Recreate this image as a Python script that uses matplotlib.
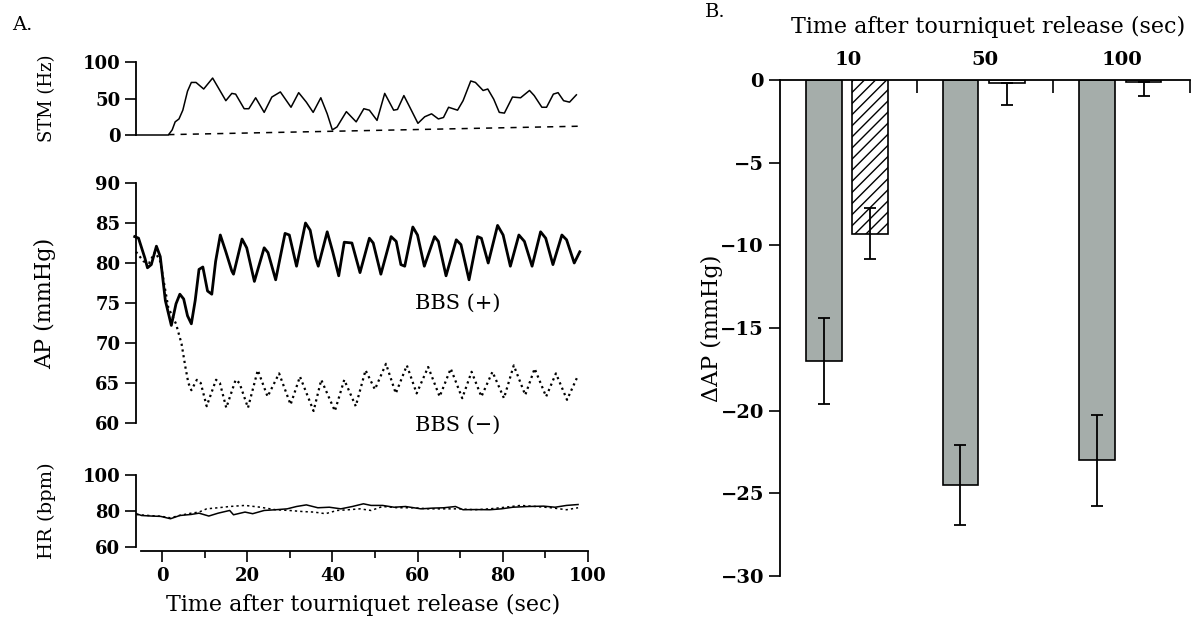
"""
Tourniquet release: STM, AP and HR traces (A) and mean AP change (B).
"""

import numpy as np
import matplotlib

matplotlib.use("Agg")
import matplotlib.pyplot as plt

plt.rcParams.update({"font.family": "DejaVu Serif", "font.size": 13})

# ---- panel A: STM (Hz) ----
stm_t = [-6.0, 1.5, 2.4, 3.1, 4.0, 4.9, 6.0, 6.9, 8.0, 9.8, 11.9, 13.2, 15.0, 16.4,
         17.3, 19.3, 20.4, 22.0, 24.0, 25.8, 27.8, 30.3, 32.1, 33.9, 35.5, 37.3,
         38.8, 40.0, 41.1, 43.3, 45.6, 47.4, 48.7, 50.5, 52.3, 54.4, 55.3, 56.8,
         58.2, 60.1, 61.7, 63.3, 64.9, 66.1, 67.3, 69.4, 70.7, 72.5, 73.6, 75.4,
         76.5, 77.9, 79.2, 80.4, 82.3, 84.2, 86.3, 87.4, 89.2, 90.3, 91.9, 93.0,
         94.3, 95.7, 97.3]
stm_hz = [0, 0, 7, 18, 22, 34, 60, 72, 72, 63, 78, 65, 47, 57,
          56, 36, 36, 51, 31, 52, 59, 38, 58, 45, 31, 51,
          29, 7, 11, 32, 18, 36, 34, 20, 57, 34, 35, 54,
          38, 16, 25, 29, 22, 24, 38, 34, 47, 74, 72, 61,
          63, 49, 31, 30, 52, 51, 61, 54, 38, 38, 56, 58,
          47, 45, 55]
stm_base_t = [1.5, 97.7]
stm_base = [0.5, 12]

# ---- panel A: AP (mmHg), BBS(+) solid ----
ap_pos_t = [-6.4, -5.5, -4.0, -3.4, -2.5, -1.3, -0.4, 0.8, 2.2, 3.3, 4.2, 5.1, 6.0,
            6.9, 7.8, 8.7, 9.6, 10.7, 11.7, 12.6, 13.7, 15.0, 16.4, 16.8, 18.8,
            19.9, 21.7, 24.0, 24.9, 26.7, 28.9, 29.9, 31.6, 33.7, 34.8, 36.1,
            36.7, 38.8, 40.1, 41.5, 42.8, 44.6, 46.5, 48.7, 49.6, 51.4, 53.8,
            55.0, 56.1, 57.0, 58.9, 60.0, 61.6, 64.0, 64.9, 66.7, 69.1, 70.2,
            72.1, 74.1, 75.0, 76.6, 78.8, 80.1, 81.8, 83.8, 85.1, 86.9, 88.9,
            90.1, 91.8, 93.9, 95.0, 96.8, 98.1]
ap_pos = [83.3, 83.1, 80.6, 79.4, 79.8, 82.1, 80.8, 75.3, 72.2, 74.9, 76.1, 75.5, 73.4,
          72.4, 75.3, 79.2, 79.5, 76.5, 76.1, 80.2, 83.5, 81.4, 79.0, 78.6, 83.0,
          81.9, 77.7, 81.9, 81.3, 77.9, 83.7, 83.5, 79.6, 85.0, 84.1, 80.6,
          79.6, 83.9, 81.4, 78.4, 82.6, 82.5, 78.8, 83.1, 82.5, 78.6, 83.3,
          82.7, 79.8, 79.6, 84.5, 83.5, 79.6, 83.3, 82.7, 78.4, 82.9, 82.3,
          77.9, 83.3, 83.1, 80.0, 84.7, 83.5, 79.6, 83.5, 82.7, 79.6, 83.9,
          83.1, 79.8, 83.5, 82.9, 80.0, 81.4]

# ---- panel A: AP (mmHg), BBS(-) dotted ----
ap_neg_t = [-6.1, -4.3, -3.0, -1.6, -0.4, 1.5, 3.3, 4.6, 5.5, 6.2, 6.9, 8.2, 9.1,
            10.5, 12.7, 13.6, 15.1, 17.3, 18.2, 20.2, 22.5, 24.8, 27.5, 30.2,
            32.4, 35.6, 37.4, 40.6, 42.8, 45.5, 47.8, 50.0, 52.6, 54.9, 57.5,
            59.8, 62.5, 65.2, 67.8, 70.5, 72.7, 75.0, 77.6, 80.3, 82.6, 85.3,
            87.5, 90.2, 92.5, 95.1, 97.4]
ap_neg = [81.4, 80.2, 80.0, 81.4, 80.2, 74.4, 72.4, 69.9, 67.0, 65.0, 64.1, 65.4, 65.0,
          62.1, 65.4, 65.0, 61.9, 65.4, 65.0, 61.9, 66.6, 63.3, 66.2, 62.3,
          65.8, 61.5, 65.4, 61.5, 65.4, 62.1, 66.6, 64.2, 67.4, 63.7, 67.2,
          63.7, 67.0, 63.3, 66.8, 63.1, 66.4, 63.3, 66.4, 63.1, 67.2, 63.5,
          66.8, 63.3, 66.2, 62.9, 65.6]

# ---- panel A: HR (bpm) ----
hr_pos_t = [-6.0, -4.8, -2.5, -0.3, 2.0, 4.2, 6.9, 8.7, 11.0, 13.2, 15.9, 16.8, 19.5,
            21.3, 24.0, 26.7, 29.4, 31.6, 33.9, 36.6, 39.3, 42.0, 44.7, 47.3,
            49.1, 51.8, 54.5, 57.2, 60.8, 63.5, 66.2, 68.9, 70.7, 73.4, 77.0,
            79.7, 82.4, 86.0, 89.6, 92.3, 95.0, 97.7]
hr_pos = [78.5, 77.5, 77.2, 77.0, 75.7, 77.5, 78.1, 78.8, 77.2, 78.8, 80.3, 77.9, 79.4,
          78.5, 80.3, 80.7, 81.2, 82.5, 83.4, 81.8, 82.1, 81.2, 82.5, 84.0,
          83.1, 83.1, 82.1, 82.5, 81.2, 81.6, 81.8, 82.5, 80.7, 80.8, 80.7,
          81.2, 82.1, 82.5, 82.7, 82.1, 83.1, 83.6]
hr_neg_t = [-6.0, -4.8, -2.5, -0.3, 2.0, 4.2, 6.9, 8.7, 10.5, 13.2, 15.9, 19.5, 23.1,
            26.7, 29.9, 33.0, 35.7, 38.4, 41.1, 43.8, 46.5, 49.1, 51.8, 55.4,
            59.0, 62.6, 66.2, 69.8, 73.4, 77.0, 80.6, 84.2, 87.8, 91.4, 95.0, 97.7]
hr_neg = [78.0, 77.8, 77.4, 77.1, 76.2, 77.6, 78.8, 79.4, 81.2, 81.8, 82.5, 83.1, 82.1,
          80.7, 80.3, 79.7, 79.4, 78.5, 80.3, 80.7, 81.2, 80.3, 82.5, 81.8,
          81.8, 81.2, 81.2, 81.2, 80.7, 81.2, 82.1, 83.1, 82.5, 81.8, 80.7, 81.8]

# ---- panel B: delta AP (mmHg) ----
release_times = ["10", "50", "100"]
dap_gray = [-17.0, -24.5, -23.0]
dap_gray_err = [2.6, 2.4, 2.75]
dap_second = [-9.3, -0.2, -0.1]
dap_second_err_low = [1.55, 1.3, 0.85]
dap_second_err_up = [1.55, 0.0, 0.0]

W, H = 1192, 625
fig = plt.figure(figsize=(W / 100, H / 100), dpi=100)


def px_axes(x0, x1, y_top, y_bot):
    return fig.add_axes([x0 / W, 1 - y_bot / H, (x1 - x0) / W, (y_bot - y_top) / H])


tick_kw = dict(direction="out", length=8, width=1.2, labelsize=13)
xlim_a = (-6.0, 100.5)
x_left, x_right = 136.4, 590.0

# STM
ax1 = px_axes(x_left, x_right, 62, 135)
ax1.plot(stm_t, stm_hz, color="black", lw=1.1, clip_on=False)
ax1.plot(stm_base_t, stm_base, color="black", lw=1.1, ls=(0, (4, 4)), clip_on=False)
ax1.set_xlim(*xlim_a)
ax1.set_ylim(0, 100)
ax1.set_yticks([0, 50, 100])
ax1.set_ylabel("STM (Hz)", fontsize=13)

# AP
ax2 = px_axes(x_left, x_right, 183, 423)
ax2.plot(ap_pos_t, ap_pos, color="black", lw=2.0, clip_on=False)
ax2.plot(ap_neg_t, ap_neg, color="black", lw=1.6, ls=(0, (1, 1.6)), clip_on=False)
ax2.set_xlim(*xlim_a)
ax2.set_ylim(60, 90)
ax2.set_yticks(range(60, 91, 5))
ax2.set_ylabel("AP (mmHg)", fontsize=16)
ax2.text(59.5, 75.0, "BBS (+)", ha="left", va="center", fontsize=15)
ax2.text(59.5, 59.7, "BBS (\u2212)", ha="left", va="center", fontsize=15, clip_on=False)

# HR
ax3 = px_axes(x_left, x_right, 475, 547)
ax3.plot(hr_pos_t, hr_pos, color="black", lw=1.1)
ax3.plot(hr_neg_t, hr_neg, color="black", lw=1.1, ls=(0, (1.5, 2)))
ax3.set_xlim(*xlim_a)
ax3.set_ylim(60, 100)
ax3.set_yticks([60, 80, 100])
ax3.set_ylabel("HR (bpm)", fontsize=14)
ax3.set_xticks(range(0, 101, 20))
ax3.set_xticks(range(10, 100, 20), minor=True)
ax3.spines["bottom"].set_position(("outward", 3))
ax3.spines["bottom"].set_bounds(-5, 100)
ax3.spines["left"].set_bounds(60, 100)
ax3.tick_params(axis="x", which="minor", direction="out", length=5, width=1.2)
ax3.set_xlabel("Time after tourniquet release (sec)", fontsize=16, labelpad=6)

for ax in (ax1, ax2, ax3):
    for s in ("top", "right"):
        ax.spines[s].set_visible(False)
    ax.spines["left"].set_linewidth(1.3)
    ax.spines["bottom"].set_linewidth(1.3)
    ax.tick_params(**tick_kw)
    for lab in ax.get_yticklabels() + ax.get_xticklabels():
        lab.set_fontweight("bold")
    ax.yaxis.set_label_coords(-0.178, 0.5)
for ax in (ax1, ax2):
    ax.spines["bottom"].set_visible(False)
    ax.set_xticks([])

# panel B
axb = px_axes(780, 1190, 80, 576)
pos = np.arange(len(release_times))
bw = 0.26
axb.bar(pos - 0.18, dap_gray, width=bw, color="#a5adaa", edgecolor="black", lw=1.2,
        yerr=dap_gray_err, capsize=4, error_kw=dict(elinewidth=1.3, capthick=1.3))
axb.bar(pos + 0.16, dap_second, width=bw, color="white", edgecolor="black", lw=1.2,
        hatch=["///", "", ""],
        yerr=[dap_second_err_low, dap_second_err_up], capsize=4,
        error_kw=dict(elinewidth=1.3, capthick=1.3))
axb.set_xlim(-0.5, 2.5)
axb.set_ylim(-30, 0)
axb.set_yticks(range(-30, 1, 5))
axb.spines["right"].set_visible(False)
axb.spines["bottom"].set_visible(False)
axb.spines["left"].set_bounds(-30, 0)
for s in ("left", "top"):
    axb.spines[s].set_linewidth(1.3)
axb.xaxis.tick_top()
axb.set_xticks(pos)
axb.set_xticklabels(release_times, fontweight="bold")
axb.set_xticks([0.5, 1.5, 2.5], minor=True)
axb.tick_params(axis="x", which="major", length=0, pad=8, labelsize=14)
axb.tick_params(axis="x", which="minor", direction="in", length=9, width=1.2)
axb.tick_params(axis="y", **dict(tick_kw, labelsize=14))
for lab in axb.get_yticklabels():
    lab.set_fontweight("bold")
axb.set_ylabel("\u0394AP (mmHg)", fontsize=16)
axb.yaxis.set_label_coords(-0.139, 0.5)

fig.text(988 / W, 1 - 27 / H, "Time after tourniquet release (sec)", ha="center",
         va="center", fontsize=16)
fig.text(12 / W, 1 - 25 / H, "A.", ha="left", va="center", fontsize=14)
fig.text(705 / W, 1 - 12 / H, "B.", ha="left", va="center", fontsize=14)

fig.savefig("out.png", dpi=100)
